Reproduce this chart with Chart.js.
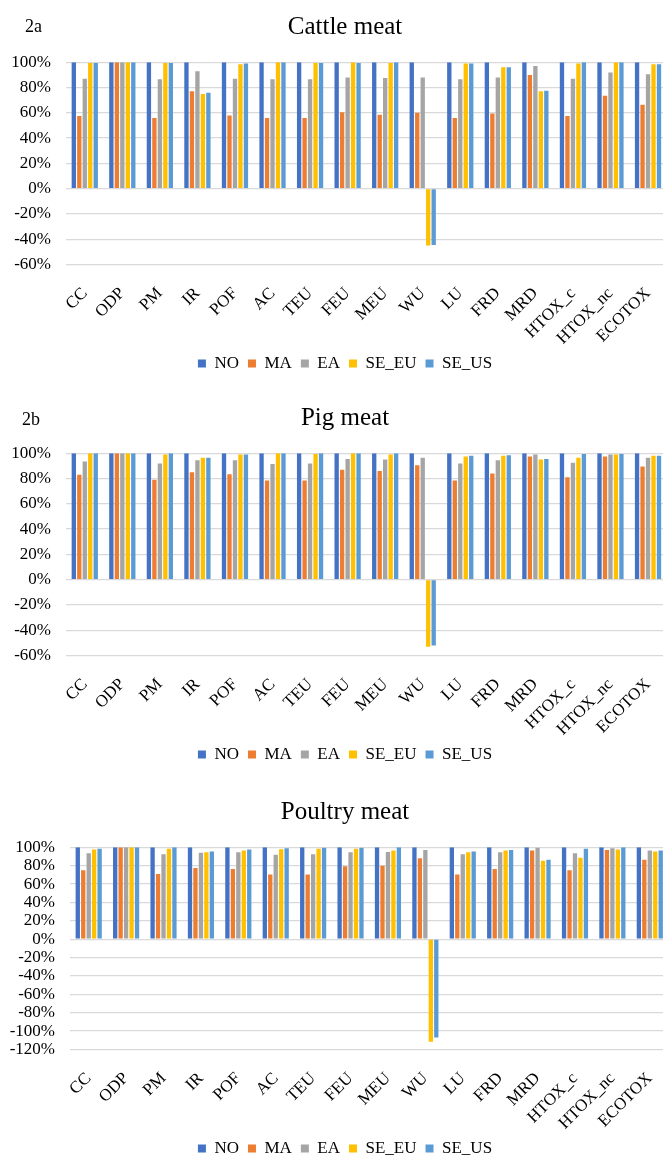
<!DOCTYPE html>
<html>
<head>
<meta charset="utf-8">
<script src="https://cdn.jsdelivr.net/npm/chart.js@4.4.0/dist/chart.umd.min.js"></script>
<style>
html, body { margin: 0; padding: 0; background: #fff; }
body { width: 663px; height: 1156px; overflow: hidden; position: relative; font-family: "Liberation Serif", serif; }
.box { position: absolute; left: 0; width: 690px; height: 382px; }
.tag { position: absolute; font-size: 18px; line-height: 18px; color: #000; }
</style>
</head>
<body>
<div class="box" style="top:0px"><canvas id="chart-cattle"></canvas></div>
<div class="box" style="top:391px"><canvas id="chart-pig"></canvas></div>
<div class="box" style="top:785px"><canvas id="chart-poultry"></canvas></div>
<div class="tag" style="left:25px;top:17px">2a</div>
<div class="tag" style="left:22px;top:410px">2b</div>
<script>
const categories = ['CC', 'ODP', 'PM', 'IR', 'POF', 'AC', 'TEU', 'FEU', 'MEU', 'WU', 'LU', 'FRD', 'MRD', 'HTOX_c', 'HTOX_nc', 'ECOTOX'];
const seriesNames = ['NO', 'MA', 'EA', 'SE_EU', 'SE_US'];
const seriesColors = ['#4472C4', '#ED7D31', '#A5A5A5', '#FFC000', '#5B9BD5'];

// y tick labels (percent)
const ticksShort = [-60, -40, -20, 0, 20, 40, 60, 80, 100];
const ticksLong = [-120, -100, -80, -60, -40, -20, 0, 20, 40, 60, 80, 100];

// 2a cattle meat
const cattleNO = [100, 100, 100, 100, 100, 100, 100, 100, 100, 100, 100, 100, 100, 100, 100, 100];
const cattleMA = [57.5, 100, 56, 77, 58, 56, 56, 60.5, 58.5, 60, 56, 59.5, 90, 57.5, 73.5, 66.5];
const cattleEA = [87, 100, 86.5, 93, 87, 86.5, 86.5, 88, 87.5, 88, 86.5, 88, 97, 87, 92, 90.5];
const cattleSE_EU = [99.5, 100, 99.5, 75, 98.5, 100, 99.5, 100, 99.5, -45, 99, 96, 77, 99, 100, 98.5];
const cattleSE_US = [99.5, 100, 99.5, 76, 99, 100, 99.5, 99.5, 100, -44.5, 99, 96, 77.5, 100, 100, 98.5];

// 2b pig meat
const pigNO = [100, 100, 100, 100, 100, 100, 100, 100, 100, 100, 100, 100, 100, 100, 100, 100];
const pigMA = [83, 100, 79, 85, 83.5, 78.5, 78.5, 87, 86, 90.5, 78.5, 84, 97.5, 81, 97.5, 89.5];
const pigEA = [93.5, 100, 92, 94.5, 94.5, 91.5, 92, 95.5, 95, 96.5, 92, 94.5, 99, 92.5, 99, 96.5];
const pigSE_EU = [100, 100, 99, 96.5, 99, 100, 99.5, 100, 99, -53, 97.5, 98, 95, 96.5, 99, 98];
const pigSE_US = [100, 100, 100, 96.5, 99, 100, 100, 100, 100, -52, 98, 98.5, 95.5, 99.5, 99.5, 98];

// poultry meat
const poultryNO = [100, 100, 100, 100, 100, 100, 100, 100, 100, 100, 100, 100, 100, 100, 100, 100];
const poultryMA = [75, 100, 71, 77.5, 76.5, 70.5, 70.5, 79.5, 80, 88, 70.5, 76.5, 96.5, 75, 97, 86.5];
const poultryEA = [93.5, 100, 92.5, 94, 94.5, 92, 92.5, 94.5, 95, 97, 92.5, 94.5, 99.5, 93.5, 99, 96.5];
const poultrySE_EU = [97.5, 100, 98.5, 94.5, 96.5, 98, 98.5, 98.5, 96.5, -111.5, 94.5, 96.5, 85.5, 88.5, 97.5, 95.5];
const poultrySE_US = [98.5, 100, 100, 95.5, 97.5, 99, 99.5, 99.5, 100, -107, 95.5, 97, 86.5, 98.5, 100, 96.5];

const serif = 'Liberation Serif';

function makeChart(id, title, series, ticks, leftWidth, rightWidth) {
    const datasets = series.map((values, i) => ({
        label: seriesNames[i],
        data: values,
        backgroundColor: seriesColors[i],
        borderWidth: 0,
        yAxisID: 'y',
        categoryPercentage: 0.73,
        barPercentage: 0.79
    }));

    return new Chart(document.getElementById(id), {
        type: 'bar',
        data: { labels: categories, datasets },
        options: {
            responsive: true,
            maintainAspectRatio: false,
            animation: false,
            layout: { padding: 0 },
            plugins: {
                title: {
                    display: true,
                    text: title,
                    color: '#000',
                    font: { family: serif, size: 25, weight: 'normal' },
                    padding: { top: 12, bottom: 20.3 }
                },
                legend: {
                    position: 'bottom',
                    labels: {
                        boxWidth: 8,
                        boxHeight: 8,
                        padding: 9,
                        color: '#000',
                        font: { family: serif, size: 17 }
                    }
                },
                tooltip: { enabled: false }
            },
            scales: {
                x: {
                    grid: { display: false },
                    border: { display: false },
                    ticks: {
                        autoSkip: false,
                        minRotation: 45,
                        maxRotation: 45,
                        padding: 11,
                        color: '#000',
                        font: { family: serif, size: 17 }
                    },
                    afterFit: scale => { scale.height = 81.5; }
                },
                y: {
                    min: ticks[0],
                    max: ticks[ticks.length - 1],
                    grid: { color: '#d9d9d9', lineWidth: 1.3, drawTicks: false },
                    border: { display: false },
                    ticks: {
                        stepSize: 20,
                        autoSkip: false,
                        padding: 15,
                        color: '#000',
                        font: { family: serif, size: 17 },
                        callback: v => v + '%'
                    },
                    afterFit: scale => { scale.width = leftWidth; }
                },
                yR: {
                    position: 'right',
                    grid: { display: false },
                    border: { display: false },
                    ticks: { display: false },
                    afterFit: scale => { scale.width = rightWidth; }
                }
            }
        }
    });
}

makeChart('chart-cattle', 'Cattle meat', [cattleNO, cattleMA, cattleEA, cattleSE_EU, cattleSE_US], ticksShort, 66, 23.2);
makeChart('chart-pig', 'Pig meat', [pigNO, pigMA, pigEA, pigSE_EU, pigSE_US], ticksShort, 66, 23.2);
makeChart('chart-poultry', 'Poultry meat', [poultryNO, poultryMA, poultryEA, poultrySE_EU, poultrySE_US], ticksLong, 70, 21.5);
</script>
</body>
</html>
